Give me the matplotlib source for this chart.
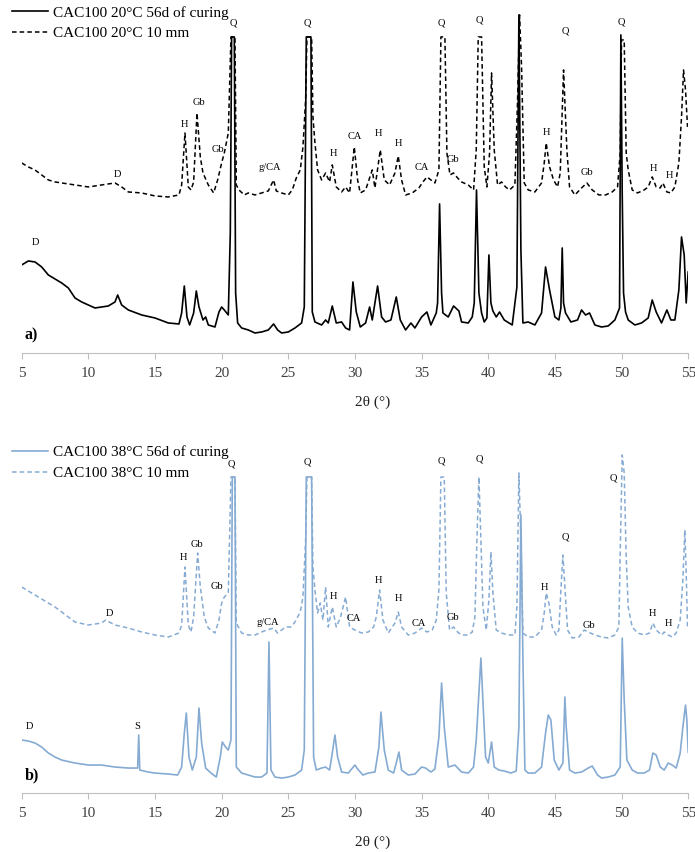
import matplotlib
matplotlib.use("Agg")
from matplotlib import pyplot as plt
import numpy as np

plt.rcParams['font.family'] = ['Liberation Serif', 'DejaVu Serif']

# (2theta, intensity), intensity in arbitrary units
a_cured = [(5.0, 88), (5.5, 92), (6.0, 91), (6.5, 86), (7.0, 78), (7.5, 74), (8.0, 70), (8.5, 65),
           (9.0, 55), (9.5, 51), (10.0, 48), (10.5, 45), (11.0, 46), (11.5, 47), (12.0, 51), (12.2, 58),
           (12.5, 48), (13.0, 43), (14.0, 38), (15.0, 35), (16.0, 30), (16.8, 29), (17.0, 40), (17.2, 67),
           (17.4, 36), (17.6, 28), (17.9, 40), (18.1, 62), (18.3, 46), (18.6, 33), (18.8, 36), (19.0, 28),
           (19.5, 26), (19.8, 41), (20.0, 46), (20.2, 43), (20.5, 38), (20.65, 120), (20.75, 316),
           (20.95, 316), (21.05, 60), (21.2, 30), (21.5, 25), (22.0, 23), (22.5, 20), (23.0, 21), (23.5, 23),
           (23.9, 29), (24.2, 23), (24.5, 20), (25.0, 21), (25.5, 25), (26.0, 30), (26.2, 46), (26.35, 316),
           (26.7, 316), (26.8, 41), (27.0, 31), (27.5, 28), (27.8, 33), (28.0, 30), (28.3, 47), (28.6, 30),
           (29.0, 31), (29.3, 25), (29.6, 23), (29.85, 71), (30.1, 41), (30.4, 26), (30.8, 30), (31.1, 46),
           (31.3, 33), (31.7, 67), (32.0, 36), (32.3, 31), (32.7, 33), (33.1, 56), (33.4, 33), (33.8, 23),
           (34.2, 30), (34.5, 25), (35.0, 36), (35.4, 41), (35.7, 28), (36.1, 40), (36.2, 50), (36.35, 149),
           (36.5, 60), (36.6, 40), (37.0, 36), (37.4, 47), (37.8, 42), (38.0, 31), (38.5, 30), (38.8, 36),
           (38.95, 50), (39.12, 163), (39.3, 60), (39.5, 40), (39.7, 31), (39.9, 35), (40.05, 98), (40.2, 50),
           (40.35, 42), (40.6, 36), (40.85, 41), (41.2, 33), (41.8, 28), (42.15, 66), (42.3, 338), (42.45, 103),
           (42.6, 30), (43.0, 31), (43.5, 28), (44.0, 40), (44.3, 86), (44.6, 63), (45.0, 36), (45.3, 33),
           (45.45, 45), (45.55, 105), (45.65, 50), (45.8, 40), (46.2, 31), (46.7, 33), (47.0, 43), (47.3, 38),
           (47.6, 40), (48.0, 28), (48.5, 26), (49.0, 27), (49.5, 33), (49.85, 45), (49.95, 318), (50.05, 160),
           (50.15, 60), (50.3, 41), (50.5, 33), (51.0, 28), (51.5, 30), (52.0, 35), (52.3, 53), (52.6, 41),
           (53.0, 30), (53.4, 43), (53.7, 33), (54.0, 33), (54.3, 63), (54.5, 116), (54.7, 98), (54.85, 50),
           (55.0, 81)]

a_10mm = [(5.0, 190), (5.5, 186), (6.0, 183), (6.5, 178), (7.0, 173), (7.5, 171), (8.0, 170), (9.0, 168),
          (10.0, 166), (11.0, 168), (12.0, 170), (12.5, 166), (13.0, 161), (14.0, 160), (15.0, 157),
          (16.0, 156), (16.8, 158), (17.0, 168), (17.25, 220), (17.5, 166), (17.7, 163), (17.9, 171),
          (18.15, 240), (18.4, 196), (18.6, 180), (19.0, 168), (19.4, 160), (19.7, 173), (20.0, 190),
          (20.2, 200), (20.5, 220), (20.7, 316), (21.0, 316), (21.1, 168), (21.3, 163), (21.7, 158),
          (22.0, 160), (22.5, 158), (23.0, 160), (23.5, 162), (23.9, 173), (24.1, 162), (24.5, 160),
          (25.0, 158), (25.3, 163), (25.6, 175), (25.9, 183), (26.1, 206), (26.3, 253), (26.4, 316),
          (26.75, 316), (26.85, 236), (27.0, 210), (27.2, 183), (27.5, 173), (27.8, 180), (28.1, 171),
          (28.3, 188), (28.6, 166), (29.0, 161), (29.3, 166), (29.6, 160), (29.95, 206), (30.2, 173),
          (30.4, 160), (30.8, 163), (31.3, 183), (31.5, 165), (31.9, 203), (32.2, 173), (32.6, 168),
          (33.0, 180), (33.25, 197), (33.5, 173), (33.8, 158), (34.3, 160), (34.8, 165), (35.1, 171),
          (35.4, 176), (35.7, 173), (36.0, 170), (36.3, 183), (36.45, 316), (36.75, 316), (36.9, 200),
          (37.13, 178), (37.4, 180), (37.7, 175), (38.0, 171), (38.5, 168), (38.9, 163), (39.1, 203),
          (39.25, 316), (39.5, 316), (39.7, 186), (39.9, 166), (40.1, 200), (40.25, 280), (40.45, 203),
          (40.7, 168), (41.0, 171), (41.3, 166), (41.6, 163), (42.0, 168), (42.2, 253), (42.35, 338),
          (42.5, 286), (42.7, 170), (43.0, 163), (43.5, 161), (44.0, 170), (44.2, 190), (44.35, 210),
          (44.6, 186), (44.9, 173), (45.2, 166), (45.4, 180), (45.65, 283), (45.9, 203), (46.1, 166),
          (46.5, 158), (47.0, 165), (47.4, 170), (47.8, 163), (48.3, 158), (48.8, 158), (49.3, 161),
          (49.7, 166), (49.9, 200), (50.0, 313), (50.2, 313), (50.35, 200), (50.5, 183), (50.8, 163),
          (51.2, 160), (51.7, 163), (52.0, 166), (52.3, 176), (52.6, 166), (52.9, 165), (53.1, 170),
          (53.4, 161), (53.7, 160), (54.0, 166), (54.3, 190), (54.5, 236), (54.65, 283), (54.8, 263),
          (54.95, 226)]

b_cured = [(5.0, 53), (5.5, 52), (6.0, 50), (6.5, 46), (7.0, 40), (7.5, 36), (8.0, 33), (9.0, 30),
           (10.0, 28), (11.0, 28), (12.0, 26), (13.0, 25), (13.7, 25), (13.78, 58), (13.86, 23), (14.5, 21),
           (15.0, 20), (16.0, 19), (16.7, 18), (17.0, 26), (17.2, 60), (17.35, 80), (17.55, 36), (17.8, 23),
           (18.1, 36), (18.3, 85), (18.5, 50), (18.8, 25), (19.2, 20), (19.6, 16), (19.9, 36), (20.05, 51),
           (20.3, 46), (20.5, 43), (20.7, 53), (20.8, 316), (21.0, 316), (21.1, 26), (21.5, 20), (22.0, 18),
           (22.5, 16), (23.0, 16), (23.4, 20), (23.55, 151), (23.7, 23), (24.0, 16), (24.5, 15), (25.0, 16),
           (25.5, 18), (26.0, 23), (26.2, 43), (26.35, 316), (26.75, 316), (26.9, 36), (27.1, 23), (27.5, 25),
           (27.8, 26), (28.1, 23), (28.3, 40), (28.5, 58), (28.7, 36), (29.0, 21), (29.5, 20), (30.0, 28),
           (30.2, 24), (30.6, 18), (31.0, 20), (31.5, 21), (31.8, 46), (31.95, 81), (32.2, 43), (32.5, 23),
           (32.9, 20), (33.1, 30), (33.3, 41), (33.5, 23), (34.0, 18), (34.5, 19), (35.0, 26), (35.3, 25),
           (35.7, 21), (36.0, 24), (36.3, 56), (36.5, 110), (36.7, 66), (37.0, 26), (37.5, 28), (38.0, 21),
           (38.5, 20), (38.9, 26), (39.1, 53), (39.3, 100), (39.45, 135), (39.6, 93), (39.8, 36), (40.0, 30),
           (40.25, 51), (40.45, 26), (40.8, 23), (41.2, 22), (41.7, 20), (42.1, 22), (42.3, 66), (42.45, 278),
           (42.6, 135), (42.75, 23), (43.0, 20), (43.5, 20), (44.0, 26), (44.3, 60), (44.5, 78), (44.7, 73),
           (44.95, 33), (45.3, 23), (45.6, 30), (45.75, 96), (45.85, 66), (46.1, 23), (46.5, 20), (47.0, 21),
           (47.5, 25), (47.8, 27), (48.2, 18), (48.5, 15), (49.0, 16), (49.5, 18), (49.9, 26), (50.05, 155),
           (50.2, 93), (50.4, 33), (50.8, 23), (51.2, 20), (51.7, 20), (52.1, 23), (52.35, 40), (52.6, 38),
           (52.9, 26), (53.2, 23), (53.5, 30), (53.8, 28), (54.1, 25), (54.4, 40), (54.6, 66), (54.8, 88),
           (54.9, 73), (55.0, 41)]

b_10mm = [(5.0, 206), (5.5, 202), (6.0, 198), (6.5, 194), (7.0, 190), (7.5, 186), (8.0, 181), (8.5, 176),
          (9.0, 171), (10.0, 168), (11.0, 170), (11.3, 173), (12.0, 168), (13.0, 165), (14.0, 161),
          (15.0, 158), (16.0, 156), (16.8, 160), (17.0, 168), (17.25, 226), (17.5, 168), (17.7, 161),
          (17.9, 176), (18.2, 240), (18.4, 206), (18.7, 176), (19.0, 165), (19.5, 160), (19.8, 173),
          (20.0, 190), (20.2, 196), (20.5, 200), (20.7, 316), (21.0, 316), (21.1, 170), (21.5, 160),
          (22.0, 158), (22.5, 158), (23.0, 161), (23.4, 163), (23.9, 165), (24.2, 160), (24.5, 163),
          (24.8, 166), (25.2, 166), (25.5, 171), (25.9, 181), (26.1, 196), (26.3, 253), (26.4, 316),
          (26.75, 316), (26.85, 226), (27.0, 203), (27.2, 180), (27.4, 190), (27.6, 173), (27.8, 206),
          (28.0, 166), (28.3, 186), (28.6, 166), (28.9, 175), (29.3, 196), (29.6, 166), (30.0, 163),
          (30.5, 160), (31.0, 161), (31.4, 166), (31.6, 176), (31.85, 203), (32.1, 173), (32.5, 160),
          (33.0, 170), (33.25, 181), (33.5, 166), (34.0, 158), (34.5, 160), (35.0, 165), (35.4, 161),
          (35.8, 163), (36.1, 173), (36.3, 203), (36.45, 316), (36.7, 316), (36.85, 200), (37.1, 163),
          (37.4, 166), (37.7, 161), (38.0, 158), (38.5, 158), (38.8, 161), (39.0, 176), (39.15, 253),
          (39.3, 316), (39.45, 253), (39.6, 186), (39.85, 163), (40.05, 193), (40.2, 241), (40.35, 200),
          (40.6, 163), (41.0, 160), (41.5, 158), (42.0, 158), (42.15, 186), (42.3, 320), (42.45, 253),
          (42.6, 160), (43.0, 156), (43.5, 156), (44.0, 163), (44.2, 180), (44.35, 200), (44.55, 190),
          (44.8, 166), (45.1, 158), (45.3, 163), (45.45, 203), (45.6, 238), (45.75, 206), (45.95, 163),
          (46.3, 155), (46.8, 156), (47.2, 163), (47.5, 161), (48.0, 158), (48.5, 156), (49.0, 155),
          (49.5, 158), (49.8, 166), (49.9, 240), (50.05, 338), (50.2, 320), (50.35, 236), (50.5, 186),
          (50.8, 166), (51.2, 160), (51.7, 158), (52.1, 160), (52.35, 170), (52.6, 163), (53.0, 158),
          (53.2, 161), (53.5, 158), (53.8, 156), (54.1, 160), (54.4, 173), (54.6, 213), (54.75, 263),
          (54.85, 220), (54.95, 166)]

# phase labels: (text, 2theta, intensity)
a_labels = [("Q", 20.87, 330), ("Q", 26.4, 330), ("Q", 36.45, 330), ("Q", 39.3, 333), ("Q", 45.75, 322),
            ("Q", 49.96, 331), ("Gb", 18.3, 250), ("H", 17.2, 228), ("Gb", 19.73, 203), ("D", 12.15, 178),
            ("g/CA", 23.6, 185), ("H", 28.35, 199), ("CA", 30.0, 216), ("H", 31.8, 219), ("H", 33.23, 209),
            ("CA", 35.03, 185), ("Gb", 37.35, 193), ("H", 44.33, 220), ("Gb", 47.4, 180), ("H", 52.4, 184),
            ("H", 53.6, 177), ("D", 6.0, 110)]
b_labels = [("Q", 20.75, 329), ("Q", 26.4, 331), ("Q", 36.45, 332), ("Q", 39.3, 334), ("Q", 49.35, 315),
            ("Q", 45.75, 256), ("Gb", 18.16, 248), ("H", 17.1, 236), ("Gb", 19.65, 207), ("D", 11.6, 180),
            ("g/CA", 23.47, 171), ("H", 28.35, 197), ("CA", 29.93, 175), ("H", 31.73, 213), ("H", 33.3, 195),
            ("CA", 34.8, 170), ("Gb", 37.35, 176), ("H", 44.25, 206), ("Gb", 47.55, 168), ("H", 52.3, 180),
            ("H", 53.5, 170), ("D", 5.6, 67), ("S", 13.7, 67)]

a_names = ["CAC100 20°C 56d of curing", "CAC100 20°C 10 mm"]
b_names = ["CAC100 38°C 56d of curing", "CAC100 38°C 10 mm"]
xticks = [5, 10, 15, 20, 25, 30, 35, 40, 45, 50, 55]

fig = plt.figure(figsize=(6.95, 8.52), dpi=100)
ax_a = fig.add_axes([0.0312, 0.5857, 0.959, 0.405])
ax_b = fig.add_axes([0.0312, 0.0692, 0.959, 0.405])


def draw_panel(ax, cured, mm10, names, labels, color, tag, leg_top):
    c = np.array(cured)
    d = np.array(mm10)
    ax.plot(c[:, 0], c[:, 1], color=color, lw=1.2, label=names[0])
    ax.plot(d[:, 0], d[:, 1], color=color, lw=1.1, ls=(0, (3, 2)), label=names[1])
    for txt, x, y in labels:
        ax.text(x, y, txt, ha='center', va='center', fontsize=7.5)
    ax.text(0.015, 0.05, tag, transform=ax.transAxes, fontsize=11.5, fontweight='bold',
            ha='center', va='center')
    ax.set_xlim(5, 55)
    ax.set_ylim(0, 345)
    for s in ['left', 'right', 'top']:
        ax.spines[s].set_visible(False)
    ax.spines['bottom'].set_color('#bfbfbf')
    ax.set_yticks([])
    ax.set_xticks(xticks)
    ax.tick_params(axis='x', colors='#bfbfbf', length=4, pad=6, labelsize=11, labelcolor='#404040')
    ax.text(0.527, -0.142, "2θ (°)", transform=ax.transAxes, ha='center', va='center', fontsize=11,
            color='#222222')
    ax.legend(loc='upper left', bbox_to_anchor=(0.017, leg_top), bbox_transform=fig.transFigure,
              frameon=False, fontsize=11, handlelength=2.4, handletextpad=0.3, borderpad=0,
              borderaxespad=0, labelspacing=0.45)


draw_panel(ax_a, a_cured, a_10mm, a_names, a_labels, 'black', 'a)', 0.993)
draw_panel(ax_b, b_cured, b_10mm, b_names, b_labels, '#86abd3', 'b)', 0.477)

fig.savefig("out.png", dpi=100)
